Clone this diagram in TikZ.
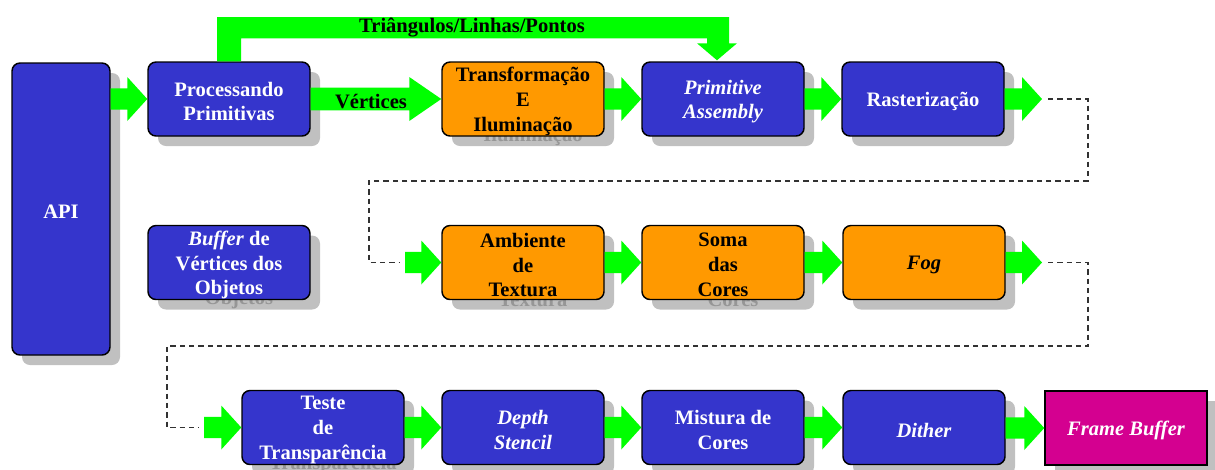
\documentclass[tikz,border=0pt]{standalone}
\usepackage{fontspec}
\setmainfont{Liberation Serif}
\usetikzlibrary{calc}
\definecolor{boxblue}{RGB}{53,53,204}
\definecolor{boxorange}{RGB}{255,153,0}
\definecolor{boxmagenta}{RGB}{212,0,144}
\definecolor{arrowgreen}{RGB}{0,255,0}
\definecolor{shadowgray}{RGB}{192,192,192}
\definecolor{shadowtext}{RGB}{150,150,150}
\definecolor{dashgray}{RGB}{50,50,50}
\tikzset{
  basebox/.style={draw=black, line width=1.1pt, rounded corners=6pt, inner sep=0pt, align=center,
    font=\fontsize{15.4pt}{18.6pt}\selectfont\bfseries, minimum width=121.5pt, minimum height=55.5pt},
  bluebox/.style={basebox, fill=boxblue, text=white},
  orangebox/.style={basebox, fill=boxorange, text=black},
  framebox/.style={basebox, fill=boxmagenta, text=white, sharp corners},
  apibox/.style={bluebox, minimum width=73.5pt, minimum height=219pt},
  shadowbox/.style={fill=shadowgray, draw=none, text=shadowtext},
  textonly/.style={draw=none, fill=none, minimum width=0pt, minimum height=0pt},
  lbl/.style={font=\fontsize{15.4pt}{18.6pt}\selectfont\bfseries, text=black, inner sep=0pt},
  dashline/.style={draw=dashgray, line width=1pt, dash pattern=on 4pt off 3pt}
}
% #1 name, #2 style, #3 cx, #4 cy, #5 text
\newcommand\stagebox[5]{%
  \node[#2, shadowbox] (#1-s) at (#3+10,#4+10) {};
  \node[#2, shadowbox, textonly] (#1-st) at (#3+10,#4+12.5) {#5};
  \node[#2] (#1) at (#3,#4) {};
  \node[#2, textonly] (#1-t) at (#3,#4+2.5) {#5};}
% #1 source point, #2 target point, #3 head length (pt), #4 shaft half height (pt)
\newcommand\garrow[4]{%
  \fill[arrowgreen] let \p1=#1, \p2=#2 in
    (\x1,\y2+#4) -- (\x2-#3,\y2+#4) -- (\x2-#3,\y2+16.5pt) -- (\x2,\y2)
    -- (\x2-#3,\y2-16.5pt) -- (\x2-#3,\y2-#4) -- (\x1,\y2-#4) -- cycle;}
\begin{document}
\begin{tikzpicture}[x=0.75pt,y=-0.75pt]
\useasboundingbox (0,0) rectangle (1215,469);
% stages
\stagebox{api}{apibox}{61}{209}{API}
\stagebox{proc}{bluebox}{229}{99}{Processando\\Primitivas}
\stagebox{trans}{orangebox}{523}{99}{Transformação\\E\\Iluminação}
\stagebox{prim}{bluebox}{723}{99}{\itshape Primitive\\\itshape Assembly}
\stagebox{ras}{bluebox}{923}{99}{Rasterização}
\stagebox{buf}{bluebox}{229}{262.5}{\textit{Buffer} de\\Vértices dos\\Objetos}
\stagebox{amb}{orangebox}{523}{262.5}{Ambiente\\de\\Textura}
\stagebox{soma}{orangebox}{723}{262.5}{Soma\\das\\Cores}
\stagebox{fog}{orangebox}{924}{262.5}{\itshape Fog}
\stagebox{teste}{bluebox}{323}{427.5}{Teste\\de\\Transparência}
\stagebox{depth}{bluebox}{523}{427.5}{\itshape Depth\\\itshape Stencil}
\stagebox{mist}{bluebox}{723}{427.5}{Mistura de\\Cores}
\stagebox{dither}{bluebox}{924}{427.5}{\itshape Dither}
\stagebox{fb}{framebox}{1126}{428}{\itshape Frame Buffer}
% free coordinates for the row wraps
\coordinate (rasout) at (1042,99);
\coordinate (ambin) at (405,262.5);
\coordinate (fogout) at (1042,262.5);
\coordinate (testein) at (204,427.5);
\coordinate (topbar) at (0,17);
% top arrow Triângulos/Linhas/Pontos
\fill[arrowgreen] let \p1=(proc.north), \p2=(prim.north), \p3=(topbar) in
  (\x1-9pt,\y1) -- (\x1-9pt,\y3) -- (\x2+4.5pt,\y3) -- (\x2+4.5pt,\y2+13.5pt)
  -- (\x2+10.5pt,\y2+13.5pt) -- (\x2-4.5pt,\y2+0.75pt) -- (\x2-19.5pt,\y2+13.5pt)
  -- (\x2-12pt,\y2+13.5pt) -- (\x2-12pt,\y3-16pt) -- (\x1+9pt,\y3-16pt) -- (\x1+9pt,\y1) -- cycle;
\node[lbl] (tlp) at (472,28) {Triângulos/Linhas/Pontos};
% block arrows
\garrow{(api.east)}{(proc.west)}{15pt}{7.9pt}
\garrow{(proc.east)}{(trans.west)}{24pt}{8.6pt}
\node[lbl] (vert) at (371,102) {Vértices};
\garrow{(trans.east)}{(prim.west)}{15pt}{7.9pt}
\garrow{(prim.east)}{(ras.west)}{15pt}{7.9pt}
\garrow{(ras.east)}{(rasout)}{15pt}{7.9pt}
\garrow{(ambin)}{(amb.west)}{15pt}{7.9pt}
\garrow{(amb.east)}{(soma.west)}{15pt}{7.9pt}
\garrow{(soma.east)}{(fog.west)}{15pt}{7.9pt}
\garrow{(fog.east)}{(fogout)}{15pt}{7.9pt}
\garrow{(testein)}{(teste.west)}{15pt}{7.9pt}
\garrow{(teste.east)}{(depth.west)}{15pt}{7.9pt}
\garrow{(depth.east)}{(mist.west)}{15pt}{7.9pt}
\garrow{(mist.east)}{(dither.west)}{15pt}{7.9pt}
\garrow{(dither.east)}{(fb.west)}{15pt}{7.9pt}
% dashed wraps
\draw[dashline] ($(rasout)+(6,0)$) -- (1088,99) -- (1088,181) -- (369,181) -- (369,262.5) -- ($(ambin)+(-5,0)$);
\draw[dashline] ($(fogout)+(6,0)$) -- (1088,262.5) -- (1088,346) -- (167,346) -- (167,427.5) -- ($(testein)+(-5,0)$);
\end{tikzpicture}
\end{document}
